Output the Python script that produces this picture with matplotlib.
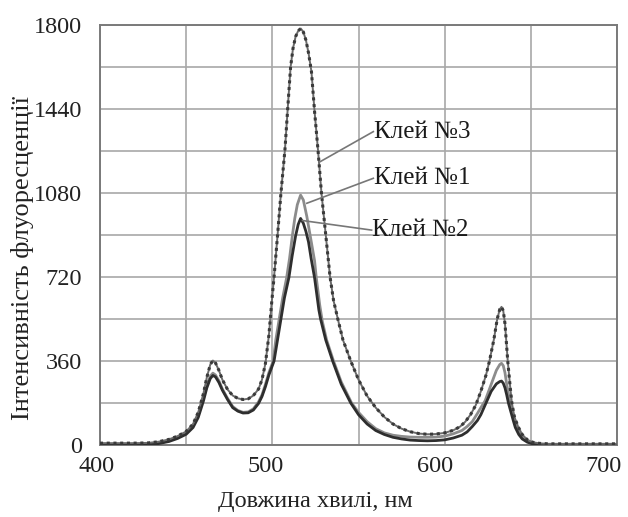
import matplotlib
matplotlib.use("Agg")
import matplotlib.pyplot as plt
import matplotlib.transforms as mtransforms
import numpy as np

# Клей №3
x3 = [400, 410, 420, 428, 434, 440, 445, 450, 454, 457, 460, 462, 464, 465.5, 467, 469, 471, 474, 477, 480,
      483, 486, 489, 492, 494, 496, 498, 499.5, 501, 503, 505, 507.3, 509, 510.6, 512, 513.5, 515, 516.5, 518,
      519.5, 521, 522.7, 524.5, 526.5, 528.5, 531, 533.5, 535.5, 538, 541, 545.5, 550, 555, 560, 565, 570, 575,
      580, 585, 590, 595, 600, 605, 609, 612, 615, 618, 621, 624, 626, 628.5, 630.5, 632, 633, 634, 635, 636.6,
      638, 639, 640.5, 642.6, 645, 648, 651, 655, 660, 670, 680, 690, 700]
y3 = [8, 8, 8, 9, 14, 24, 38, 58, 90, 140, 220, 290, 345, 362, 352, 320, 280, 238, 212, 200,
      195, 198, 212, 240, 280, 350, 470, 600, 720, 896, 1080, 1264, 1450, 1620, 1700, 1750, 1775, 1785, 1770,
      1735, 1680, 1600, 1430, 1264, 1080, 900, 720, 620, 540, 450, 360, 280, 210, 160, 120, 90, 70,
      57, 49, 46, 47, 52, 63, 79, 100, 130, 170, 230, 300, 360, 450, 540, 582, 592, 575, 520, 360,
      250, 180, 120, 79, 45, 22, 12, 7, 5, 5, 5, 5, 5]

# Клей №1
x1 = [400, 410, 420, 428, 434, 440, 445, 450, 454, 457, 460, 462, 464, 465.5, 467, 469, 471, 474, 477, 480,
      483, 486, 489, 492, 494, 496, 498, 500.5, 502, 504, 506, 508.3, 510, 511.6, 513, 514.5, 516.4, 518, 520,
      522, 524.5, 525.5, 527.5, 529, 531.5, 535.5, 540, 546, 550, 555, 560, 565, 570, 575, 580, 585, 590, 595,
      600, 605, 610, 613, 616, 619, 621, 623.5, 626, 628, 630, 632, 633, 634, 635, 636, 637, 638, 639.5, 641,
      643, 645, 648, 651, 655, 660, 700]
y1 = [2, 2, 2, 3, 8, 18, 32, 52, 82, 128, 200, 255, 295, 308, 300, 275, 240, 200, 165, 148,
      140, 142, 155, 185, 215, 260, 310, 360, 450, 540, 630, 717, 800, 896, 970, 1030, 1071, 1050, 980,
      896, 790, 717, 600, 530, 450, 360, 270, 180, 140, 100, 70, 52, 42, 37, 34, 33, 33, 34,
      38, 48, 62, 79, 100, 135, 160, 190, 240, 280, 320, 345, 350, 340, 310, 260, 220, 180, 130, 90,
      55, 32, 15, 7, 3, 2, 2]

# Клей №2
x2 = [400, 410, 420, 428, 434, 440, 445, 450, 454, 457, 460, 462, 464, 465.5, 467, 469, 471, 474, 477, 480,
      483, 486, 489, 492, 494, 496, 498, 501, 503, 505, 507, 509.6, 511.5, 513.5, 515, 516.4, 518, 519.5, 521,
      522.5, 524.5, 527, 528, 531, 535, 540, 545.5, 550, 555, 560, 565, 570, 575, 580, 585, 590, 595, 600,
      605, 610, 613, 616, 619, 621, 624, 627, 630, 632, 633, 634, 635, 636, 637, 638.5, 640, 641, 643, 645,
      648, 651, 655, 660, 700]
y2 = [1, 1, 1, 2, 6, 15, 28, 46, 75, 118, 188, 245, 285, 298, 292, 268, 235, 195, 160, 145,
      137, 138, 150, 178, 208, 250, 300, 360, 450, 540, 630, 717, 810, 896, 945, 971, 950, 915, 870,
      800, 717, 579, 540, 450, 360, 260, 180, 130, 90, 62, 45, 33, 26, 21, 19, 18, 19, 22,
      30, 42, 56, 79, 105, 130, 180, 230, 262, 272, 274, 265, 245, 215, 180, 140, 100, 75, 45, 26,
      12, 5, 2, 1, 1]

xticks = [400, 500, 600, 700]
yticks = [0, 360, 720, 1080, 1440, 1800]
labels = ["Клей №3", "Клей №1", "Клей №2"]
label_pos = [(558.6, 1343), (558.6, 1143), (557.6, 921)]
leader_end = [(527.7, 1214), (520.0, 1036), (517.5, 962)]

plt.rcParams['font.family'] = ['Liberation Serif', 'DejaVu Serif']

fig = plt.figure(figsize=(6.28, 5.17), dpi=100)
ax = fig.add_axes([100/628, 1-445/517, 517/628, 420/517])

ax.set_xlim(400, 700)
ax.set_ylim(0, 1800)
ax.set_xticks(xticks)
ax.set_xticks([450, 550, 650], minor=True)
ax.set_yticks(yticks)
ax.set_yticks([180, 540, 900, 1260, 1620], minor=True)
ax.grid(True, which='both', color='#a8a8a8', linewidth=1.2)
ax.set_axisbelow(True)
ax.tick_params(which='both', length=0, labelsize=17.5, colors='#222222')
ax.tick_params(axis='x', pad=8)
ax.tick_params(axis='y', pad=13)
for s in ax.spines.values():
    s.set_color('#7a7a7a')
    s.set_linewidth(1.4)

# shift x tick labels slightly left as in the reference
x_offsets = [-3, -7, -10, -13]
for lab, dx in zip(ax.get_xticklabels(), x_offsets):
    lab.set_transform(lab.get_transform() + mtransforms.ScaledTranslation(dx / 100, 0, fig.dpi_scale_trans))

ax.plot(x1, y1, color='#8c8c8c', linewidth=2.0, zorder=3)
ax.plot(x2, y2, color='#2e2e2e', linewidth=2.0, zorder=4)
ax.plot(x3, y3, color='#6a6a6a', linewidth=1.4, zorder=5)
ax.plot(x3, y3, color='#3a3a3a', linewidth=2.2, linestyle=(0, (1, 1.2)), zorder=5)

for lab, (tx, ty), (ex, ey) in zip(labels, label_pos, leader_end):
    ax.plot([ex, tx], [ey, ty], color='#777777', linewidth=1.2, zorder=6)
    ax.text(tx + 0.3, ty, lab, fontsize=18, ha='left', va='center', color='#1a1a1a', zorder=7)

ax.set_xlabel("Довжина хвилі, нм", fontsize=17.5, color='#222222')
ax.set_ylabel("Інтенсивність флуоресценції", fontsize=19, color='#222222')
ax.xaxis.set_label_coords((315 - 100) / 517, -(491 - 445) / 420)
ax.yaxis.set_label_coords((34 - 100) / 517, (445 - 258) / 420)

fig.savefig("out.png", dpi=100)
